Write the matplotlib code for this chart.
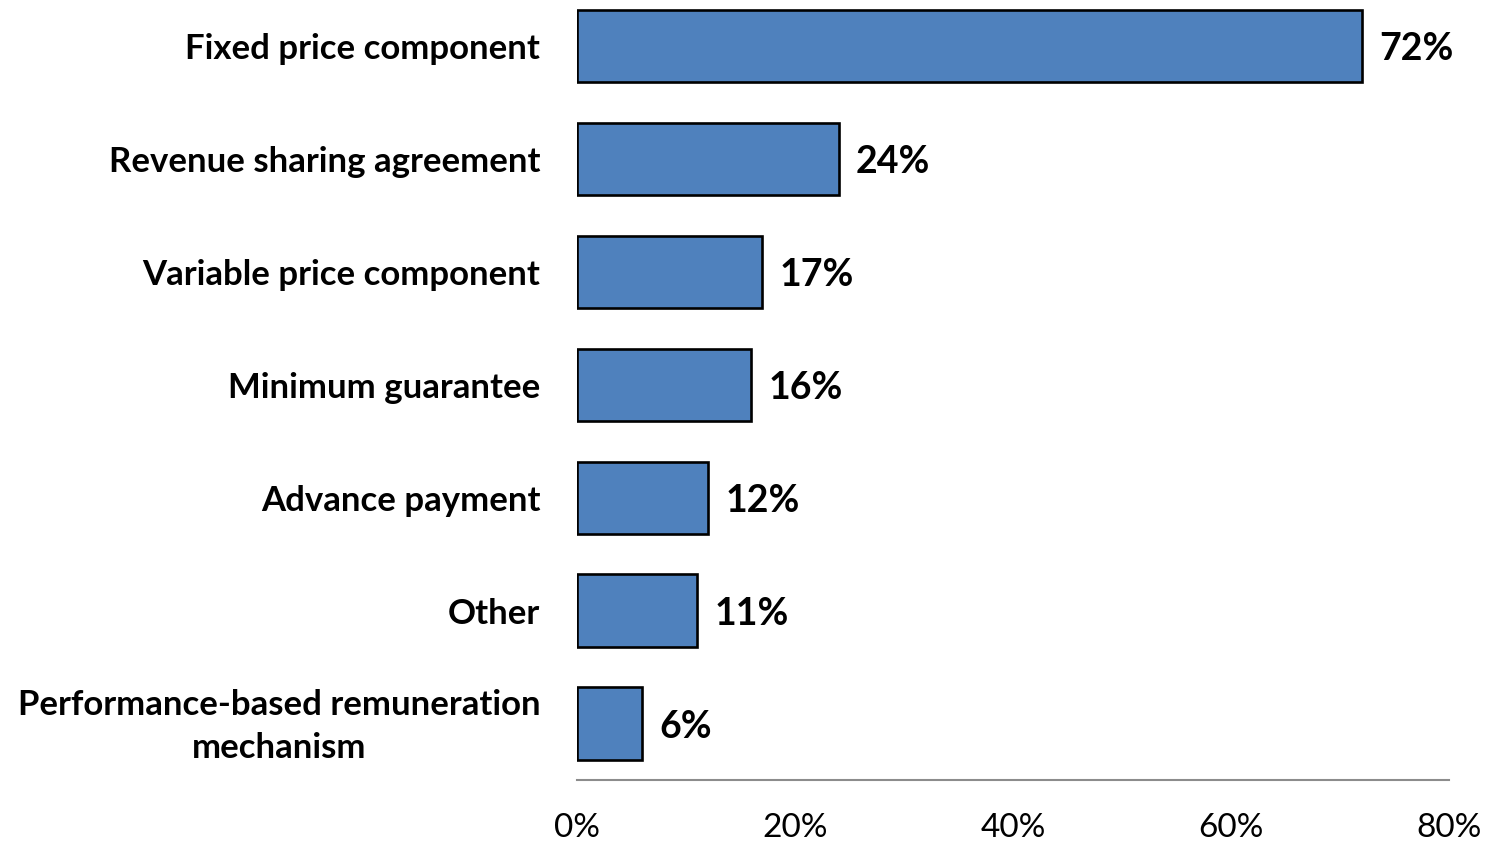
import numpy as np
import matplotlib.pyplot as plt
import matplotlib.transforms as mtransforms
from matplotlib.ticker import FuncFormatter

categories = ["Fixed price component", "Revenue sharing agreement",
              "Variable price component", "Minimum guarantee",
              "Advance payment", "Other",
              "Performance-based remuneration\nmechanism"]
values = [72, 24, 17, 16, 12, 11, 6]
xticks = [0, 20, 40, 60, 80]

plt.rcParams['font.family'] = ['Lato', 'DejaVu Sans']

W, H = 1489, 843
fig = plt.figure(figsize=(W / 100, H / 100), dpi=100)
ax = fig.add_axes([577 / W, 63 / H, 872 / W, 780 / H])

y = np.arange(len(categories))
ax.barh(y, values, height=0.64, color='#4F81BD', edgecolor='black', linewidth=1.9)

for yi, v in zip(y, values):
    ax.text(v + 1.6, yi + 0.03, f"{v}%", va='center', ha='left',
            fontsize=27, fontweight='bold')

ax.set_xlim(0, 80)
ax.set_ylim(6.5, -0.407)
ax.set_xticks(xticks)
ax.xaxis.set_major_formatter(FuncFormatter(lambda v, p: f"{v:.0f}%"))
ax.set_yticks(y)
ax.set_yticklabels(categories, fontsize=25, fontweight='bold',
                   multialignment='center', linespacing=1.45)
ax.tick_params(axis='y', length=0, pad=26.5)
ax.tick_params(axis='x', length=0, pad=24, labelsize=24)

# nudge the two-line label up a bit
lbl = ax.get_yticklabels()[-1]
lbl.set_transform(lbl.get_transform() +
                  mtransforms.ScaledTranslation(0, 6 / 100, fig.dpi_scale_trans))

for s in ['top', 'right', 'left']:
    ax.spines[s].set_visible(False)
ax.spines['bottom'].set_color('#8c8c8c')
ax.spines['bottom'].set_linewidth(1.5)

fig.savefig('out.png', dpi=100)
